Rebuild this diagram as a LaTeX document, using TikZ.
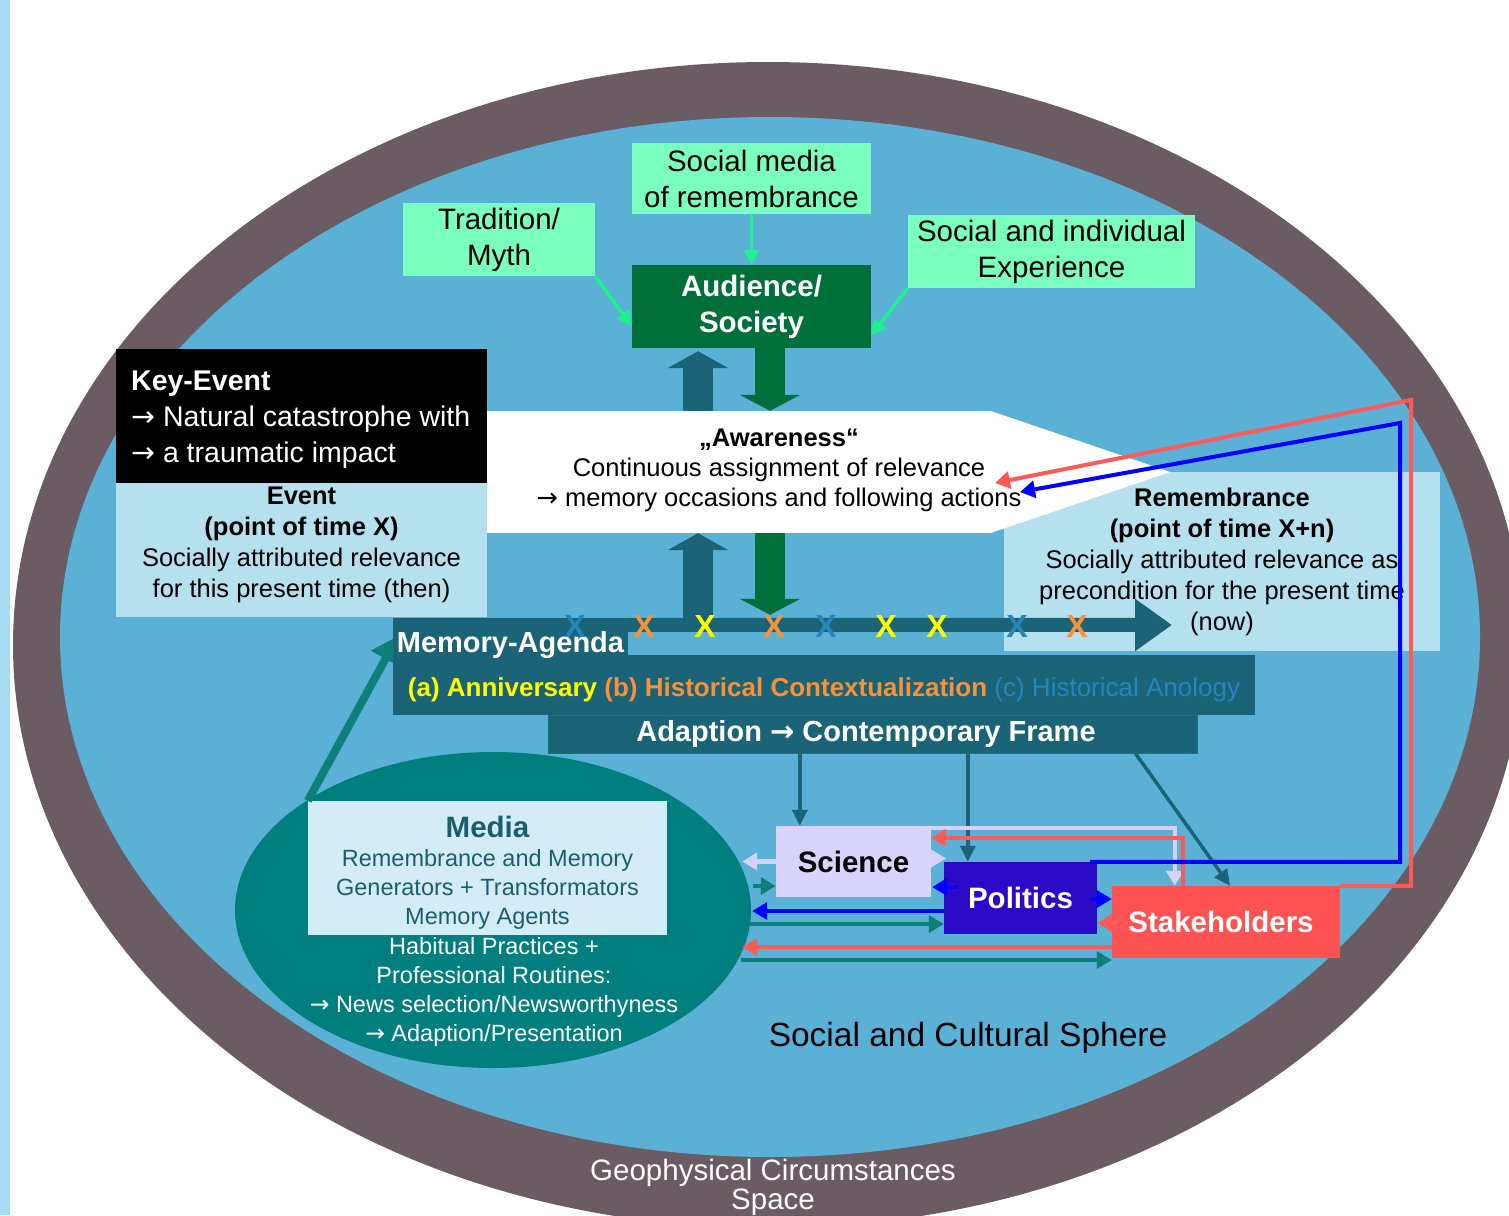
\documentclass[tikz,border=0pt]{standalone}
\usepackage{fontspec}
\setmainfont{Liberation Sans}
\newfontfamily\arrowfont{DejaVu Sans}
\newcommand{\rarr}{{\arrowfont →}}
\usetikzlibrary{arrows.meta,calc,shapes.geometric}

\definecolor{ringgrey}{HTML}{6B5C64}
\definecolor{sphere}{HTML}{5AB1D5}
\definecolor{mint}{HTML}{7BFFBE}
\definecolor{mintline}{HTML}{1EF28C}
\definecolor{audgreen}{HTML}{006F3A}
\definecolor{agenda}{HTML}{1B6377}
\definecolor{paleblue}{HTML}{B5E0EE}
\definecolor{mediateal}{HTML}{007F7E}
\definecolor{mediabox}{HTML}{D4EBF8}
\definecolor{mediatext}{HTML}{1B5F6F}
\definecolor{science}{HTML}{D9D4FB}
\definecolor{politics}{HTML}{2A0AC6}
\definecolor{stake}{HTML}{FF5353}
\definecolor{redline}{HTML}{FF5A5A}
\definecolor{blueline}{HTML}{0000FF}
\definecolor{lavender}{HTML}{D6D0FA}
\definecolor{tealline}{HTML}{0E7F7B}
\definecolor{xblue}{HTML}{2386BD}
\definecolor{xorange}{HTML}{F7923A}
\definecolor{xyellow}{HTML}{FFFF00}
\definecolor{leftbar}{HTML}{A6DAF7}

\tikzstyle{box} = [inner sep=0pt, align=center]
\tikzstyle{mintbox} = [box, fill=mint, font=\fontsize{29.5}{36}\selectfont]
\tikzstyle{palebox} = [box, fill=paleblue, font=\fontsize{25.5}{31}\selectfont]
\tikzstyle{actor} = [box, font=\bfseries\fontsize{29.5}{36}\selectfont]
\tikzstyle{minted} = [mintline, line width=3.5pt, -{Triangle[length=15pt,width=15pt]}]
\tikzstyle{link} = [line width=4.5pt, -{Triangle[length=15pt,width=17pt]}]
\tikzstyle{framearrow} = [agenda, line width=3.5pt, -{Triangle[length=16pt,width=15pt]}]
\tikzstyle{bigup} = [agenda, line width=30pt, -{Triangle[length=17pt,width=60pt]}]
\tikzstyle{bigdown} = [audgreen, line width=30pt, -{Triangle[length=16pt,width=60pt]}]
\tikzstyle{xmark} = [inner sep=0pt, font=\bfseries\fontsize{32}{32}\selectfont]

\begin{document}
\begin{tikzpicture}[x=1pt, y=-1pt]
\clip (0,0) rectangle (1509,1215);
\fill[white] (0,0) rectangle (1509,1215);
\fill[leftbar] (0,0) rectangle (10,1215);
% the two spheres
\fill[ringgrey] (768,645) ellipse [x radius=755pt, y radius=583pt];
\fill[sphere] (770,637) ellipse [x radius=710pt, y radius=520pt];

% audience and its sources
\node[mintbox, minimum width=192pt, minimum height=73pt] (trad) at (499,239.5) {Tradition/\\Myth};
\node[mintbox, minimum width=239pt, minimum height=71pt] (smedia) at (751.5,178.5) {Social media\\of remembrance};
\node[mintbox, minimum width=287pt, minimum height=73pt] (exper) at (1051.5,251.5) {Social and individual\\Experience};
\node[actor, fill=audgreen, text=white, minimum width=239pt, minimum height=83pt] (aud) at (751.5,306.5) {Audience/\\Society};
\draw[minted] (smedia) -- (aud);
\draw[minted] (trad.south east) -- ($(aud.south west)+(0,-22)$);
\draw[minted] (exper.south west) -- ($(aud.south east)+(0,-13)$);

% key event, awareness, remembrance
\node[box, fill=black, minimum width=371pt, minimum height=134pt] (keyev) at (301.5,416) {};
\node[box, align=left, anchor=west, text=white, font=\fontsize{28.5}{36}\selectfont] (keytxt) at (131,420)
  {\textbf{Key-Event}\\\rarr\ Natural catastrophe with\\\rarr\ a traumatic impact};
\node[box, fill=paleblue, minimum width=371pt, minimum height=134pt] (event) at (301.5,550) {};
\node[box, font=\fontsize{25.5}{31}\selectfont] (evtxt) at (301.5,545)
  {\textbf{Event}\\\textbf{(point of time X)}\\Socially attributed relevance\\for this present time (then)};
\node[box, fill=paleblue, minimum width=436pt, minimum height=179pt] (remem) at (1222,561.5) {};
\node[box, fill=white, minimum width=503pt, minimum height=122pt] (aware) at (738.5,472) {};
\fill[white] (aware.north east) -- ($(aware.east)+(180,0)$) -- (aware.south east) -- cycle;
\node[box, font=\fontsize{25.5}{30}\selectfont] (awtext) at (779,470)
  {\textbf{„Awareness“}\\Continuous assignment of relevance\\\rarr\ memory occasions and following actions};
\node[box, font=\fontsize{25.5}{31}\selectfont] (remtxt) at (1222,561.5)
  {\textbf{Remembrance}\\\textbf{(point of time X+n)}\\Socially attributed relevance as\\precondition for the present time\\(now)};

% media
\node[ellipse, fill=mediateal, minimum width=516pt, minimum height=316pt, inner sep=0pt] (media) at (493,910) {};
\node[box, fill=mediabox, minimum width=359pt, minimum height=134pt] (mediabox) at (487.5,868) {};
\node[box, text=mediatext, font=\fontsize{23.5}{29}\selectfont] (medtxt) at (487.5,873)
  {{\bfseries\fontsize{29.5}{31}\selectfont Media}\\Remembrance and Memory\\Generators + Transformators\\Memory Agents};
\node[box, text=white, font=\fontsize{23.5}{29}\selectfont] (mediatxt) at (494,992)
  {Habitual Practices +\\Professional Routines:\\\rarr\ News selection/Newsworthyness\\\rarr\ Adaption/Presentation};
\draw[tealline, line width=8pt, -{Triangle[length=26pt,width=32pt]}] (mediabox.north west) -- (398,636);

% memory agenda
\node[box, fill=agenda, minimum width=862pt, minimum height=60pt, text height=28pt, text depth=6pt, font=\bfseries\fontsize{26}{26}\selectfont] (magenda) at (824,685)
  {\textcolor{xyellow}{(a) Anniversary} \textcolor{xorange}{(b) Historical Contextualization} \textcolor{xblue}{\mdseries(c) Historical Anology}};
\node[box, fill=agenda, text=white, minimum width=235pt, minimum height=54pt, font=\bfseries\fontsize{29}{29}\selectfont] (matab) at (510.5,645) {Memory-Agenda};
\node[box, fill=agenda, draw=mediateal, line width=1pt, text=white, minimum width=649pt, minimum height=38pt, font=\bfseries\fontsize{29}{29}\selectfont] (adapt) at (872.5,734)
  {Adaption \rarr\ Contemporary Frame\kern13pt};
\coordinate (tl1) at (1172,625);
\draw[agenda, line width=14pt, -{Triangle[length=37pt,width=50pt]}] ($(matab.north east)+(0,7)$) -- (tl1);

% exchange between audience and awareness
\coordinate (upx) at (698,0);
\coordinate (dnx) at (770,0);
\draw[bigup] (aware.north -| upx) -- ($(aud.south -| upx)+(0,3)$);
\draw[bigdown] (aud.south -| dnx) -- (aware.north -| dnx);
\draw[bigup] ($(matab.north east -| upx)+(0,7)$) -- (aware.south -| upx);
\draw[bigdown] (aware.south -| dnx) -- ($(matab.north east -| dnx)+(0,-3)$);

\foreach \xp/\xc in {575/xblue,644/xorange,705/xyellow,774/xorange,826/xblue,886/xyellow,937/xyellow,1017/xblue,1077/xorange}
  \node[xmark, text=\xc] (x\xp) at (\xp,626) {X};

% actors
\node[actor, fill=science, minimum width=155pt, minimum height=71pt] (science) at (853.5,861.5) {Science};
\node[actor, fill=politics, text=white, minimum width=153pt, minimum height=72pt] (politics) at (1020.5,898) {Politics};
\node[actor, fill=stake, text=white, minimum width=228pt, minimum height=72pt] (stake) at (1226,922) {Stakeholders\kern10pt};

\coordinate (scitop) at ($(science.north west)+(24,0)$);
\coordinate (poltop) at ($(politics.north west)+(24,0)$);
\draw[framearrow] (adapt.south -| scitop) -- (scitop);
\draw[framearrow] (adapt.south -| poltop) -- (poltop);
\draw[framearrow] ($(adapt.south east)+(-62,0)$) -- ($(stake.north)+(4,0)$);

\draw[link, lavender] ($(science.north east)+(0,2)$) -| ($(stake.north west)+(63,0)$);
\draw[link, lavender] (science.west) -- ($(science.west -| media.east)+(-9,0)$);
\draw[link, lavender] ($(science.east)+(0,-3)$) -- ($(science.east)+(15,-3)$);
\draw[link, redline] ($(stake.north west)+(71,0)$) |- ($(science.north east)+(0,12)$);
\draw[link, blueline] ($(politics.west)+(13,-11)$) -- ($(science.east)+(1,25.5)$);
\draw[link, blueline] ($(politics.east)+(-7,1)$) -- ($(stake.west)+(0,-23)$);
\draw[link, redline] ($(stake.west)+(13,1)$) -- ($(politics.east)+(0,25)$);
\draw[link, blueline] ($(politics.west)+(0,13)$) -- ($(media.east)+(1,1)$);
\draw[link, tealline] ($(media.east)+(2,-24)$) -- ($(science.west)+(0,24.5)$);
\draw[link, tealline] ($(media.east)+(-1,14)$) -- ($(politics.west)+(0,26)$);
\draw[link, redline] ($(stake.west)+(0,25)$) -- ($(media.east)+(-9,37)$);
\draw[link, tealline] ($(media.east)+(-10,50)$) -- ($(stake.west)+(0,38)$);

% feedback to awareness
\coordinate (redtop) at (1411,400);
\coordinate (redend) at (995,483);
\coordinate (bluetop) at (1400,423);
\coordinate (blueend) at (1020,492);
\draw[link, redline, line width=4pt] (stake.north east) -| (redtop) -- (redend);
\draw[link, blueline, line width=4pt] ($(politics.north east)+(-7,0)$) -| (bluetop) -- (blueend);

\node[box, font=\fontsize{33.5}{33.5}\selectfont] (socsphere) at (968,1038) {Social and Cultural Sphere};
\node[box, text=white, font=\fontsize{29.5}{29}\selectfont] (geo) at (773,1187) {Geophysical Circumstances\\Space};
\end{tikzpicture}
\end{document}
